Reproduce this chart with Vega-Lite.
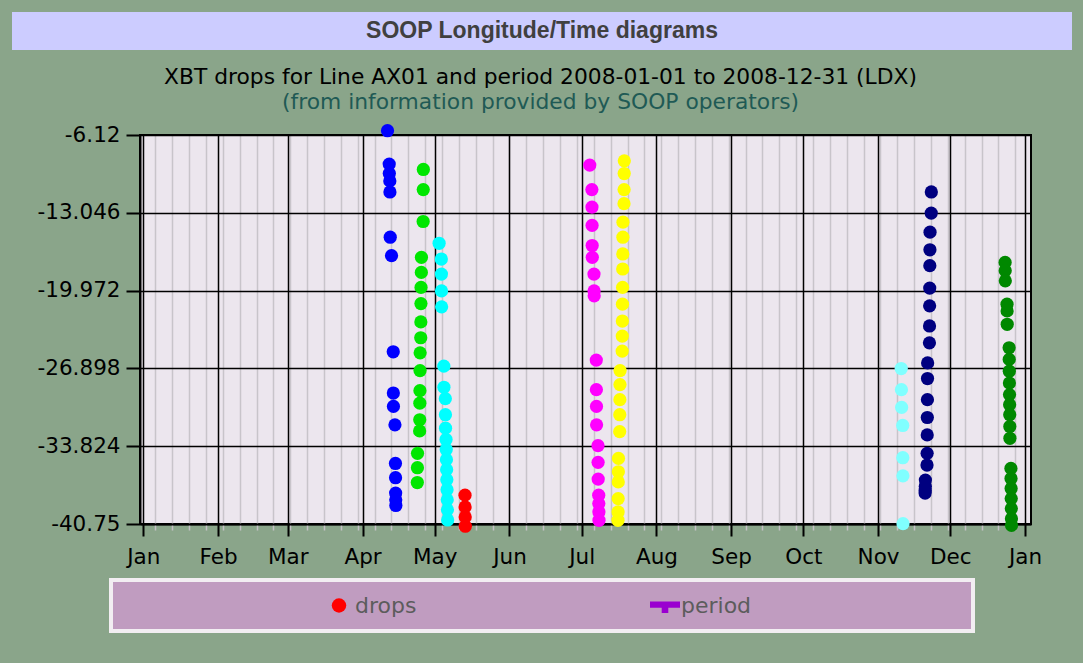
{
  "$schema": "https://vega.github.io/schema/vega-lite/v6.json",
  "background": "#8aa58a",
  "padding": {"left": 12, "top": 12, "right": 11, "bottom": 30},
  "config": {"font": "DejaVu Sans"},
  "datasets": {
    "drops": [
      {"t":"2008-04-11T09:00","lon":-5.74,"c":"A"},
      {"t":"2008-04-12T02:00","lon":-8.71,"c":"A"},
      {"t":"2008-04-12T03:00","lon":-9.55,"c":"A"},
      {"t":"2008-04-12T08:00","lon":-10.21,"c":"A"},
      {"t":"2008-04-12T09:00","lon":-11.19,"c":"A"},
      {"t":"2008-04-12T12:00","lon":-15.22,"c":"A"},
      {"t":"2008-04-13T01:00","lon":-16.86,"c":"A"},
      {"t":"2008-04-13T18:00","lon":-25.42,"c":"A"},
      {"t":"2008-04-13T19:00","lon":-29.09,"c":"A"},
      {"t":"2008-04-13T20:00","lon":-30.28,"c":"A"},
      {"t":"2008-04-14T11:00","lon":-31.92,"c":"A"},
      {"t":"2008-04-14T16:00","lon":-35.36,"c":"A"},
      {"t":"2008-04-14T17:00","lon":-36.63,"c":"A"},
      {"t":"2008-04-14T18:00","lon":-38.0,"c":"A"},
      {"t":"2008-04-14T19:00","lon":-38.6,"c":"A"},
      {"t":"2008-04-14T20:00","lon":-39.1,"c":"A"},
      {"t":"2008-04-23T18:00","lon":-37.06,"c":"B"},
      {"t":"2008-04-23T19:00","lon":-35.74,"c":"B"},
      {"t":"2008-04-23T20:00","lon":-34.46,"c":"B"},
      {"t":"2008-04-24T17:00","lon":-32.46,"c":"B"},
      {"t":"2008-04-24T18:00","lon":-31.47,"c":"B"},
      {"t":"2008-04-24T19:00","lon":-29.99,"c":"B"},
      {"t":"2008-04-24T20:00","lon":-28.88,"c":"B"},
      {"t":"2008-04-24T21:00","lon":-27.09,"c":"B"},
      {"t":"2008-04-24T22:00","lon":-25.51,"c":"B"},
      {"t":"2008-04-25T04:00","lon":-24.17,"c":"B"},
      {"t":"2008-04-25T05:00","lon":-22.76,"c":"B"},
      {"t":"2008-04-25T06:00","lon":-21.13,"c":"B"},
      {"t":"2008-04-25T07:00","lon":-19.69,"c":"B"},
      {"t":"2008-04-25T10:00","lon":-18.35,"c":"B"},
      {"t":"2008-04-25T11:00","lon":-17.01,"c":"B"},
      {"t":"2008-04-26T04:00","lon":-13.82,"c":"B"},
      {"t":"2008-04-26T05:00","lon":-10.98,"c":"B"},
      {"t":"2008-04-26T06:00","lon":-9.19,"c":"B"},
      {"t":"2008-05-02T19:00","lon":-15.76,"c":"C"},
      {"t":"2008-05-03T17:00","lon":-17.16,"c":"C"},
      {"t":"2008-05-03T18:00","lon":-18.5,"c":"C"},
      {"t":"2008-05-03T19:00","lon":-20.0,"c":"C"},
      {"t":"2008-05-03T20:00","lon":-21.42,"c":"C"},
      {"t":"2008-05-04T18:00","lon":-26.7,"c":"C"},
      {"t":"2008-05-04T19:00","lon":-28.58,"c":"C"},
      {"t":"2008-05-05T09:00","lon":-29.59,"c":"C"},
      {"t":"2008-05-05T10:00","lon":-31.02,"c":"C"},
      {"t":"2008-05-05T11:00","lon":-32.22,"c":"C"},
      {"t":"2008-05-05T16:00","lon":-33.23,"c":"C"},
      {"t":"2008-05-05T18:00","lon":-34.12,"c":"C"},
      {"t":"2008-05-05T20:00","lon":-35.02,"c":"C"},
      {"t":"2008-05-05T22:00","lon":-35.91,"c":"C"},
      {"t":"2008-05-06T00:00","lon":-36.81,"c":"C"},
      {"t":"2008-05-06T02:00","lon":-37.7,"c":"C"},
      {"t":"2008-05-06T04:00","lon":-38.6,"c":"C"},
      {"t":"2008-05-06T06:00","lon":-39.49,"c":"C"},
      {"t":"2008-05-06T08:00","lon":-40.39,"c":"C"},
      {"t":"2008-05-13T13:00","lon":-38.18,"c":"D"},
      {"t":"2008-05-13T14:00","lon":-39.23,"c":"D"},
      {"t":"2008-05-13T15:00","lon":-40.12,"c":"D"},
      {"t":"2008-05-13T16:00","lon":-40.95,"c":"D"},
      {"t":"2008-07-04T08:00","lon":-8.8,"c":"E"},
      {"t":"2008-07-05T05:00","lon":-10.98,"c":"E"},
      {"t":"2008-07-05T06:00","lon":-12.54,"c":"E"},
      {"t":"2008-07-05T07:00","lon":-14.17,"c":"E"},
      {"t":"2008-07-05T08:00","lon":-15.96,"c":"E"},
      {"t":"2008-07-05T09:00","lon":-17.01,"c":"E"},
      {"t":"2008-07-06T02:00","lon":-18.5,"c":"E"},
      {"t":"2008-07-06T03:00","lon":-20.0,"c":"E"},
      {"t":"2008-07-06T04:00","lon":-20.44,"c":"E"},
      {"t":"2008-07-07T01:00","lon":-26.16,"c":"E"},
      {"t":"2008-07-07T02:00","lon":-28.79,"c":"E"},
      {"t":"2008-07-07T03:00","lon":-30.28,"c":"E"},
      {"t":"2008-07-07T04:00","lon":-31.92,"c":"E"},
      {"t":"2008-07-07T18:00","lon":-33.77,"c":"E"},
      {"t":"2008-07-07T19:00","lon":-35.26,"c":"E"},
      {"t":"2008-07-07T20:00","lon":-36.75,"c":"E"},
      {"t":"2008-07-08T01:00","lon":-38.18,"c":"E"},
      {"t":"2008-07-08T02:00","lon":-38.93,"c":"E"},
      {"t":"2008-07-08T03:00","lon":-39.68,"c":"E"},
      {"t":"2008-07-08T04:00","lon":-40.42,"c":"E"},
      {"t":"2008-07-16T01:00","lon":-40.42,"c":"F"},
      {"t":"2008-07-16T02:00","lon":-39.68,"c":"F"},
      {"t":"2008-07-16T03:00","lon":-38.49,"c":"F"},
      {"t":"2008-07-16T04:00","lon":-37.0,"c":"F"},
      {"t":"2008-07-16T05:00","lon":-36.1,"c":"F"},
      {"t":"2008-07-16T06:00","lon":-34.91,"c":"F"},
      {"t":"2008-07-16T18:00","lon":-32.52,"c":"F"},
      {"t":"2008-07-16T19:00","lon":-31.02,"c":"F"},
      {"t":"2008-07-16T20:00","lon":-29.68,"c":"F"},
      {"t":"2008-07-16T21:00","lon":-28.34,"c":"F"},
      {"t":"2008-07-16T22:00","lon":-27.09,"c":"F"},
      {"t":"2008-07-17T19:00","lon":-25.36,"c":"F"},
      {"t":"2008-07-17T20:00","lon":-24.02,"c":"F"},
      {"t":"2008-07-17T21:00","lon":-22.68,"c":"F"},
      {"t":"2008-07-17T22:00","lon":-21.18,"c":"F"},
      {"t":"2008-07-17T23:00","lon":-19.69,"c":"F"},
      {"t":"2008-07-18T00:00","lon":-18.05,"c":"F"},
      {"t":"2008-07-18T01:00","lon":-16.71,"c":"F"},
      {"t":"2008-07-18T02:00","lon":-15.22,"c":"F"},
      {"t":"2008-07-18T03:00","lon":-13.88,"c":"F"},
      {"t":"2008-07-18T13:00","lon":-12.23,"c":"F"},
      {"t":"2008-07-18T14:00","lon":-10.98,"c":"F"},
      {"t":"2008-07-18T15:00","lon":-9.55,"c":"F"},
      {"t":"2008-07-18T16:00","lon":-8.42,"c":"F"},
      {"t":"2008-11-10T15:00","lon":-26.91,"c":"G"},
      {"t":"2008-11-10T17:00","lon":-28.79,"c":"G"},
      {"t":"2008-11-10T19:00","lon":-30.37,"c":"G"},
      {"t":"2008-11-11T06:00","lon":-31.98,"c":"G"},
      {"t":"2008-11-11T07:00","lon":-34.85,"c":"G"},
      {"t":"2008-11-11T08:00","lon":-36.46,"c":"G"},
      {"t":"2008-11-11T09:00","lon":-40.72,"c":"G"},
      {"t":"2008-11-20T13:00","lon":-38.0,"c":"H"},
      {"t":"2008-11-20T14:00","lon":-37.74,"c":"H"},
      {"t":"2008-11-20T15:00","lon":-37.4,"c":"H"},
      {"t":"2008-11-20T16:00","lon":-36.84,"c":"H"},
      {"t":"2008-11-21T08:00","lon":-35.5,"c":"H"},
      {"t":"2008-11-21T09:00","lon":-34.46,"c":"H"},
      {"t":"2008-11-21T10:00","lon":-32.82,"c":"H"},
      {"t":"2008-11-21T11:00","lon":-31.27,"c":"H"},
      {"t":"2008-11-21T12:00","lon":-29.68,"c":"H"},
      {"t":"2008-11-21T13:00","lon":-27.8,"c":"H"},
      {"t":"2008-11-21T14:00","lon":-26.41,"c":"H"},
      {"t":"2008-11-22T08:00","lon":-24.62,"c":"H"},
      {"t":"2008-11-22T09:00","lon":-23.12,"c":"H"},
      {"t":"2008-11-22T10:00","lon":-21.33,"c":"H"},
      {"t":"2008-11-22T11:00","lon":-19.75,"c":"H"},
      {"t":"2008-11-22T12:00","lon":-17.75,"c":"H"},
      {"t":"2008-11-22T13:00","lon":-16.34,"c":"H"},
      {"t":"2008-11-22T14:00","lon":-14.77,"c":"H"},
      {"t":"2008-11-23T02:00","lon":-13.07,"c":"H"},
      {"t":"2008-11-23T03:00","lon":-11.19,"c":"H"},
      {"t":"2008-12-23T18:00","lon":-17.46,"c":"I"},
      {"t":"2008-12-23T19:00","lon":-18.2,"c":"I"},
      {"t":"2008-12-23T20:00","lon":-19.1,"c":"I"},
      {"t":"2008-12-24T13:00","lon":-21.18,"c":"I"},
      {"t":"2008-12-24T14:00","lon":-21.78,"c":"I"},
      {"t":"2008-12-24T15:00","lon":-22.97,"c":"I"},
      {"t":"2008-12-25T10:00","lon":-25.06,"c":"I"},
      {"t":"2008-12-25T11:00","lon":-26.1,"c":"I"},
      {"t":"2008-12-25T12:00","lon":-27.15,"c":"I"},
      {"t":"2008-12-25T13:00","lon":-28.2,"c":"I"},
      {"t":"2008-12-25T14:00","lon":-29.23,"c":"I"},
      {"t":"2008-12-25T15:00","lon":-30.13,"c":"I"},
      {"t":"2008-12-25T16:00","lon":-31.02,"c":"I"},
      {"t":"2008-12-25T17:00","lon":-32.07,"c":"I"},
      {"t":"2008-12-25T18:00","lon":-33.12,"c":"I"},
      {"t":"2008-12-26T04:00","lon":-35.8,"c":"I"},
      {"t":"2008-12-26T05:00","lon":-36.7,"c":"I"},
      {"t":"2008-12-26T06:00","lon":-37.59,"c":"I"},
      {"t":"2008-12-26T07:00","lon":-38.49,"c":"I"},
      {"t":"2008-12-26T08:00","lon":-39.38,"c":"I"},
      {"t":"2008-12-26T09:00","lon":-40.28,"c":"I"},
      {"t":"2008-12-26T10:00","lon":-40.87,"c":"I"}
    ],
    "blank": [{"k": ""}]
  },
  "spacing": 16,
  "vconcat": [
    {
      "width": 1060,
      "height": 38,
      "view": {"fill": "#ccccff", "stroke": "#ccccff", "strokeWidth": 0},
      "data": {"values": [{"label": "SOOP Longitude/Time diagrams"}]},
      "mark": {"type": "text", "font": "Liberation Sans", "fontWeight": "bold", "fontSize": 23, "color": "#404040", "baseline": "middle", "align": "center"},
      "encoding": {"text": {"field": "label"}}
    },
    {
      "spacing": 9,
      "vconcat": [
        {
          "spacing": 0,
          "hconcat": [
            {
              "width": 24,
              "height": 10,
              "view": {"fill": "#8aa58a", "stroke": "#8aa58a", "strokeWidth": 0},
              "data": {"name": "blank"},
              "mark": {"type": "text"},
              "encoding": {"text": {"field": "k"}}
            },
            {
              "width": 891,
              "height": 389,
              "view": {"fill": "#ece6ee", "stroke": "black", "strokeWidth": 2},
              "title": {
                "text": "XBT drops for Line AX01 and period 2008-01-01 to 2008-12-31 (LDX)",
                "subtitle": "(from information provided by SOOP operators)",
                "font": "DejaVu Sans",
                "fontSize": 21.8,
                "fontWeight": "normal",
                "color": "black",
                "subtitleFont": "DejaVu Sans",
                "subtitleFontSize": 21.8,
                "subtitleColor": "#1f5a55",
                "subtitlePadding": 3,
                "offset": 10,
                "dx": -45,
                "anchor": "middle"
              },
              "data": {"name": "drops"},
              "layer": [
                {
                  "mark": {"type": "point", "opacity": 0},
                  "encoding": {
                    "x": {
                      "field": "t",
                      "type": "temporal",
                      "scale": {"domain": [{"year": 2007, "month": 12, "date": 30, "hours": 15}, {"year": 2009, "month": 1, "date": 3, "hours": 12}], "nice": false},
                      "axis": {
                        "orient": "bottom",
                        "tickCount": {"interval": "week", "step": 1},
                        "labels": false,
                        "domain": false,
                        "ticks": true,
                        "tickColor": "#c4c0c6",
                        "tickSize": 6,
                        "tickWidth": 1.5,
                        "grid": true,
                        "gridColor": "#c8c4ca",
                        "gridWidth": 1.5,
                        "gridOpacity": 1,
                        "title": null
                      }
                    },
                    "y": {
                      "field": "lon",
                      "type": "quantitative",
                      "scale": {"domain": [-40.75, -6.12], "nice": false, "zero": false},
                      "axis": {
                        "values": [-40.75, -33.824, -26.898, -19.972, -13.046, -6.12],
                        "labelExpr": "'' + datum.value",
                        "grid": true,
                        "gridColor": "black",
                        "gridWidth": 1.5,
                        "gridOpacity": 1,
                        "tickColor": "black",
                        "tickWidth": 2,
                        "tickSize": 14,
                        "domainColor": "black",
                        "domainWidth": 2,
                        "labelFont": "DejaVu Sans",
                        "labelFontSize": 21.5,
                        "labelColor": "black",
                        "labelPadding": 6,
                        "labelFlush": false,
                        "labelOverlap": false,
                        "title": null
                      }
                    }
                  }
                },
                {
                  "mark": {"type": "circle", "size": 175, "opacity": 1},
                  "encoding": {
                    "x": {
                      "field": "t",
                      "type": "temporal",
                      "axis": {
                        "orient": "bottom",
                        "tickCount": {"interval": "month", "step": 1},
                        "format": "%b",
                        "grid": true,
                        "gridColor": "black",
                        "gridWidth": 1.5,
                        "gridOpacity": 1,
                        "tickColor": "black",
                        "tickWidth": 2,
                        "tickSize": 12,
                        "domainColor": "black",
                        "domainWidth": 2,
                        "labelFont": "DejaVu Sans",
                        "labelFontSize": 21.5,
                        "labelColor": "black",
                        "labelPadding": 10,
                        "labelFlush": false,
                        "labelOverlap": false,
                        "title": null
                      }
                    },
                    "y": {"field": "lon", "type": "quantitative"},
                    "color": {
                      "field": "c",
                      "type": "nominal",
                      "scale": {"domain": ["A","B","C","D","E","F","G","H","I"], "range": ["#0000ff","#00e600","#00ffff","#ff0000","#ff00ff","#ffff00","#80ffff","#000080","#008800"]},
                      "legend": null
                    }
                  }
                }
              ],
              "resolve": {"axis": {"x": "independent"}}
            }
          ]
        },
        {
          "spacing": 0,
          "hconcat": [
            {
              "width": 97,
              "height": 10,
              "view": {"fill": "#8aa58a", "stroke": "#8aa58a", "strokeWidth": 0},
              "data": {"name": "blank"},
              "mark": {"type": "text"},
              "encoding": {"text": {"field": "k"}}
            },
            {
              "width": 862,
              "height": 51,
              "view": {"fill": "#c09cc0", "stroke": "#f2eef2", "strokeWidth": 4},
              "data": {"values": [{"label": "drops"}, {"label": "period"}]},
              "encoding": {
                "x": {"field": "label", "type": "nominal", "scale": {"type": "point", "domain": ["drops", "period"], "range": [228, 554], "padding": 0}, "axis": null}
              },
              "layer": [
                {
                  "mark": {"type": "point", "filled": true, "opacity": 1, "strokeWidth": 0},
                  "encoding": {
                    "shape": {"field": "label", "type": "nominal", "scale": {"domain": ["drops", "period"], "range": ["circle", "M-1,-0.27H1V0.15H-1Z M-0.22,0.15H0.22V0.5H-0.22Z"]}, "legend": null},
                    "fill": {"field": "label", "type": "nominal", "scale": {"domain": ["drops", "period"], "range": ["#ff0000", "#9a00d0"]}, "legend": null},
                    "size": {"field": "label", "type": "ordinal", "scale": {"domain": ["drops", "period"], "range": [210, 900]}, "legend": null}
                  }
                },
                {
                  "mark": {"type": "text", "align": "left", "baseline": "middle", "dx": 16, "font": "DejaVu Sans", "fontSize": 22, "color": "#5c5c5c"},
                  "encoding": {"text": {"field": "label"}}
                }
              ]
            }
          ]
        }
      ]
    }
  ]
}
